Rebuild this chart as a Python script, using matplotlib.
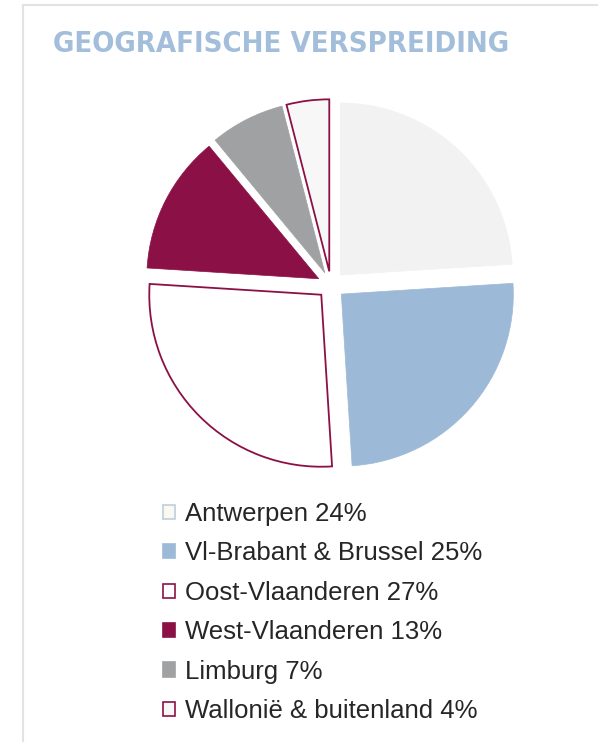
import matplotlib
matplotlib.use("Agg")
import matplotlib.pyplot as plt
from matplotlib.patches import Patch
from matplotlib.lines import Line2D

# data
regions = ["Antwerpen", "Vl-Brabant & Brussel", "Oost-Vlaanderen",
           "West-Vlaanderen", "Limburg", "Wallonië & buitenland"]
shares = [24, 25, 27, 13, 7, 4]
fills = ["#f2f2f2", "#9db9d8", "#ffffff", "#8b1046", "#a0a1a3", "#f7f7f7"]
edges = ["#f2f2f2", "#9db9d8", "#8b1046", "#8b1046", "#a0a1a3", "#8b1046"]
legend_edges = ["#bccfe4", "#9db9d8", "#8b1046", "#8b1046", "#a0a1a3", "#8b1046"]

W, H = 598, 742
fig = plt.figure(figsize=(W / 100, H / 100), dpi=100)
fig.patch.set_facecolor("white")

# light frame
fig.add_artist(Line2D([23 / W, 23 / W], [0, 1 - 5 / H], color="#e3e3e3", lw=1.5))
fig.add_artist(Line2D([23 / W, 1], [1 - 5 / H, 1 - 5 / H], color="#e3e3e3", lw=1.5))

fig.text(281 / W, 1 - 44 / H, "GEOGRAFISCHE VERSPREIDING", ha="center", va="center",
         fontsize=21, fontweight="bold", fontstretch="condensed", color="#a3bedb",
         family=["DejaVu Sans"])

# pie: centre (331, 285) px, radius 172 px
r = 172
cx, cy = 331, 285
half = 1.2 * r
ax = fig.add_axes([(cx - half) / W, (H - cy - half) / H, 2 * half / W, 2 * half / H])
wedges, _ = ax.pie(shares, startangle=90, counterclock=False, colors=fills,
                   explode=[0.08] * len(shares), radius=1.0)
for w, ec in zip(wedges, edges):
    w.set_edgecolor(ec)
    w.set_linewidth(1.3 if ec == "#8b1046" and w.get_facecolor()[0] > 0.9 else 0.5)
ax.set_xlim(-1.2, 1.2)
ax.set_ylim(-1.2, 1.2)
ax.set_aspect("equal")
ax.axis("off")

labels = [f"{n} {v}%" for n, v in zip(regions, shares)]
handles = [Patch(facecolor=f, edgecolor=e, linewidth=1.2) for f, e in zip(fills, legend_edges)]
handles[0] = Patch(facecolor="#fbf8f0", edgecolor=legend_edges[0], linewidth=1.2)
fs = 18.5
leg = fig.legend(handles, labels, loc="upper left", bbox_to_anchor=(163 / W, 1 - 502 / H),
                 frameon=False, handlelength=0.47, handleheight=0.47,
                 handletextpad=0.4, labelspacing=0.6, borderpad=0, borderaxespad=0,
                 prop={"family": ["Liberation Sans", "DejaVu Sans"], "size": fs})
for t in leg.get_texts():
    t.set_color("#262626")

fig.savefig("out.png", dpi=100)
